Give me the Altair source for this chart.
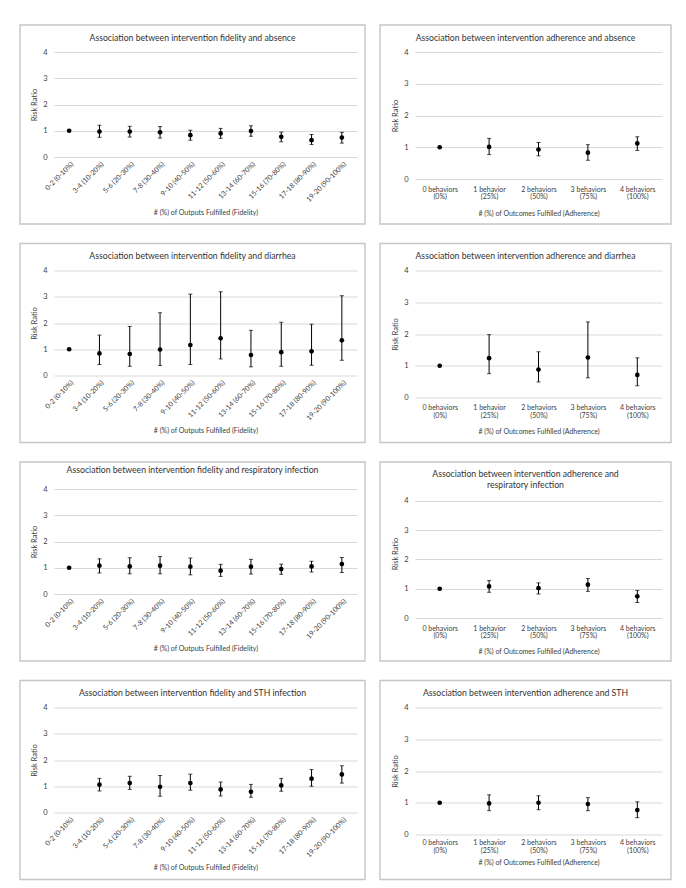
import altair as alt
import pandas as pd

fid_cats = ["0-2 (0-10%)", "3-4 (10-20%)", "5-6 (20-30%)", "7-8 (30-40%)", "9-10 (40-50%)",
            "11-12 (50-60%)", "13-14 (60-70%)", "15-16 (70-80%)", "17-18 (80-90%)", "19-20 (90-100%)"]
adh_cats = ["0 behaviors (0%)", "1 behavior (25%)", "2 behaviors (50%)", "3 behaviors (75%)", "4 behaviors (100%)"]

# Absence
abs_fid_rr = [1.00, 0.97, 0.97, 0.94, 0.83, 0.90, 0.99, 0.77, 0.64, 0.74]
abs_fid_lo = [None, 0.75, 0.76, 0.72, 0.64, 0.71, 0.79, 0.58, 0.48, 0.53]
abs_fid_hi = [None, 1.21, 1.17, 1.16, 1.02, 1.09, 1.19, 0.95, 0.86, 0.94]
abs_adh_rr = [1.00, 1.01, 0.93, 0.83, 1.12]
abs_adh_lo = [None, 0.77, 0.73, 0.59, 0.90]
abs_adh_hi = [None, 1.28, 1.15, 1.08, 1.33]

# Diarrhea
dia_fid_rr = [1.00, 0.84, 0.82, 0.99, 1.16, 1.42, 0.78, 0.89, 0.92, 1.34]
dia_fid_lo = [None, 0.42, 0.35, 0.38, 0.42, 0.63, 0.33, 0.35, 0.39, 0.58]
dia_fid_hi = [None, 1.54, 1.87, 2.39, 3.10, 3.19, 1.72, 2.03, 1.95, 3.04]
dia_adh_rr = [1.00, 1.24, 0.88, 1.26, 0.71]
dia_adh_lo = [None, 0.75, 0.49, 0.62, 0.37]
dia_adh_hi = [None, 1.98, 1.44, 2.38, 1.25]

# Respiratory infection
res_fid_rr = [1.00, 1.08, 1.05, 1.08, 1.04, 0.89, 1.04, 0.95, 1.05, 1.14]
res_fid_lo = [None, 0.80, 0.77, 0.77, 0.73, 0.67, 0.76, 0.75, 0.84, 0.82]
res_fid_hi = [None, 1.34, 1.38, 1.43, 1.37, 1.13, 1.32, 1.14, 1.25, 1.39]
res_adh_rr = [1.00, 1.08, 1.02, 1.14, 0.74]
res_adh_lo = [None, 0.88, 0.82, 0.91, 0.53]
res_adh_hi = [None, 1.28, 1.20, 1.35, 0.94]

# STH infection
sth_fid_rr = [None, 1.06, 1.12, 0.98, 1.12, 0.88, 0.79, 1.03, 1.29, 1.45]
sth_fid_lo = [None, 0.82, 0.88, 0.62, 0.85, 0.63, 0.58, 0.81, 1.00, 1.12]
sth_fid_hi = [None, 1.30, 1.38, 1.41, 1.46, 1.16, 1.07, 1.30, 1.64, 1.78]
sth_adh_rr = [1.00, 0.98, 1.00, 0.96, 0.77]
sth_adh_lo = [None, 0.75, 0.78, 0.75, 0.53]
sth_adh_hi = [None, 1.25, 1.22, 1.16, 1.03]

FONT = "Lato"
TXT = "#404040"
GRID = "#d9d9d9"
BORDER = "#c6c6c6"


def panel(cats, rr, lo, hi, title, xtitle, W, H, box, fid, title_offset, xtitle_y, ymax=4, lpad=6):
    df = pd.DataFrame({"cat": cats, "rr": rr, "lo": lo, "hi": hi})
    pts = df.dropna(subset=["rr"])
    err = df.dropna(subset=["lo", "hi"])
    xscale = alt.Scale(type="point", domain=cats, padding=0.5)
    if fid:
        xaxis = alt.Axis(labelAngle=-45, labelFontSize=7, labelPadding=3, ticks=False, domain=False,
                         grid=False, labelColor=TXT, titleColor=TXT, titleFontSize=7,
                         titleFontWeight="normal", titleBaseline="middle", titleY=xtitle_y,
                         labelOverlap=False)
    else:
        xaxis = alt.Axis(labelAngle=0, labelFontSize=7, labelPadding=lpad, ticks=False, domain=False,
                         grid=False, labelColor=TXT, titleColor=TXT, titleFontSize=7,
                         titleFontWeight="normal", titleBaseline="middle", titleY=xtitle_y,
                         labelLineHeight=7.5, labelOverlap=False,
                         labelExpr="[slice(datum.value, 0, indexof(datum.value, ' (')), "
                                   "slice(datum.value, indexof(datum.value, ' (') + 1)]")
    yaxis = alt.Axis(values=[0, 1, 2, 3, 4], grid=True, gridColor=GRID, gridWidth=1, ticks=False,
                     domain=False, labelFontSize=7.5, labelPadding=7, labelColor=TXT,
                     titleColor=TXT, titleFontSize=7.5, titleFontWeight="normal", titlePadding=4)
    yscale = alt.Scale(domain=[0, ymax], nice=False)

    def X():
        return alt.X("cat:N", scale=xscale, axis=xaxis, title=xtitle, sort=cats)

    def Y(f):
        return alt.Y(f"{f}:Q", scale=yscale, axis=yaxis, title="Risk Ratio")

    border = alt.Chart(pd.DataFrame({"b": [0]})).mark_rect(
        fillOpacity=0, stroke=BORDER, strokeWidth=1.4
    ).encode(x=alt.value(-box[0]), x2=alt.value(W + box[1]),
             y=alt.value(-box[2]), y2=alt.value(H + box[3]))
    rule = alt.Chart(err).mark_rule(color="#000", strokeWidth=1).encode(
        x=X(), y=Y("lo"), y2="hi:Q")
    tlo = alt.Chart(err).mark_tick(color="#000", size=4, thickness=1).encode(x=X(), y=Y("lo"))
    thi = alt.Chart(err).mark_tick(color="#000", size=4, thickness=1).encode(x=X(), y=Y("hi"))
    dots = alt.Chart(pts).mark_point(filled=True, size=22, color="#000", opacity=1).encode(
        x=X(), y=Y("rr"))
    return alt.layer(border, rule, tlo, thi, dots).properties(
        width=W, height=H,
        title=alt.TitleParams(title, fontSize=8.7, font=FONT, color="#333", fontWeight="normal",
                              anchor="middle", frame="bounds", baseline="alphabetic",
                              offset=title_offset, lineHeight=11))


FX = "# (%) of Outputs Fulfilled (Fidelity)"
AX = "# (%) of Outcomes Fulfilled (Adherence)"
LW, LH = 303, 105
RW, RH = 247, 127
LBOX = (34, 8, 27, 67)
RBOX = (35, 9, 27, 45)

rows = [
    alt.hconcat(
        panel(fid_cats, abs_fid_rr, abs_fid_lo, abs_fid_hi,
              "Association between intervention fidelity and absence", FX, LW, LH, LBOX, True, -25, 55),
        panel(adh_cats, abs_adh_rr, abs_adh_lo, abs_adh_hi,
              "Association between intervention adherence and absence", AX, RW, RH, RBOX, False, -25, 34),
        spacing=13),
    alt.hconcat(
        panel(fid_cats, dia_fid_rr, dia_fid_lo, dia_fid_hi,
              "Association between intervention fidelity and diarrhea", FX, LW, LH, LBOX, True, -25, 55),
        panel(adh_cats, dia_adh_rr, dia_adh_lo, dia_adh_hi,
              "Association between intervention adherence and diarrhea", AX, RW, RH, RBOX, False, -25, 34),
        spacing=13),
    alt.hconcat(
        panel(fid_cats, res_fid_rr, res_fid_lo, res_fid_hi,
              "Association between intervention fidelity and respiratory infection", FX, LW, LH, LBOX,
              True, -20, 54),
        panel(adh_cats, res_adh_rr, res_adh_lo, res_adh_hi,
              ["Association between intervention adherence and", "respiratory infection"], AX,
              RW, 129, (35, 9, 27, 43), False, -35, 33, ymax=4.41),
        spacing=13),
    alt.hconcat(
        panel(fid_cats, sth_fid_rr, sth_fid_lo, sth_fid_hi,
              "Association between intervention fidelity and STH infection", FX, LW, LH, LBOX, True, -25, 55),
        panel(adh_cats, sth_adh_rr, sth_adh_lo, sth_adh_hi,
              "Association between intervention adherence and STH", AX, RW, RH, RBOX, False, -25, 28,
              lpad=4),
        spacing=13),
]

chart = alt.vconcat(*rows, spacing=17.5).properties(
    padding={"left": 11, "top": 16, "right": 0, "bottom": 0}
).configure(font=FONT).configure_view(stroke=None).configure_concat(spacing=13)

chart.save("out.html", embed_options={"renderer": "svg", "actions": False})
